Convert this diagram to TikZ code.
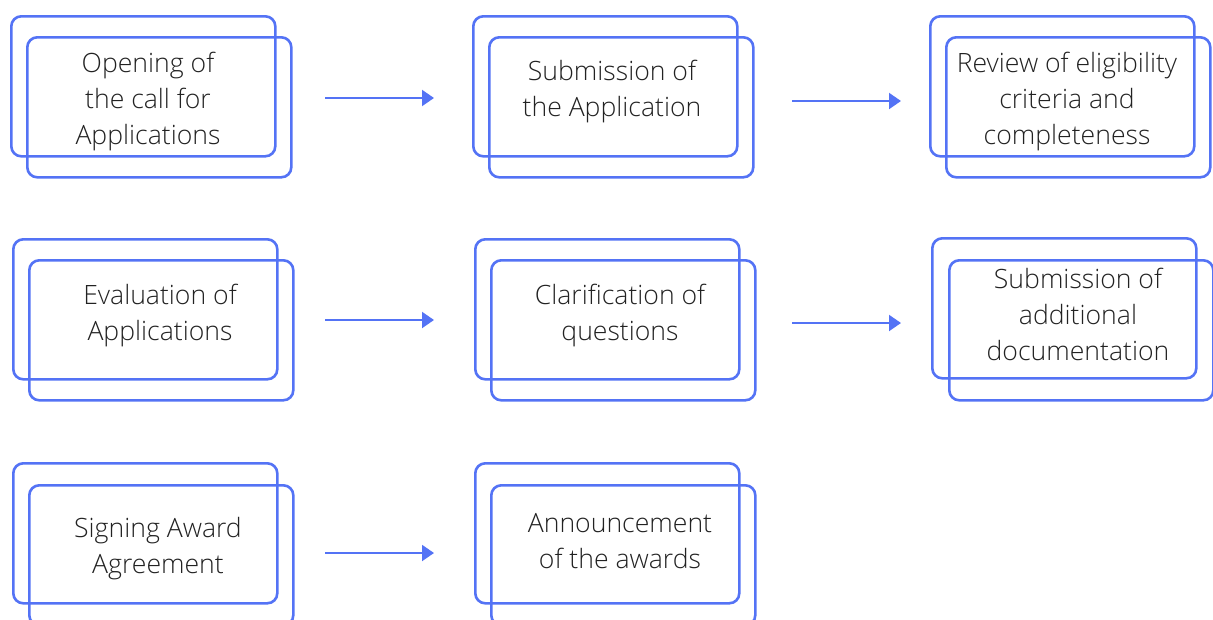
\documentclass[tikz,border=0pt]{standalone}
\usepackage{fontspec}
\setmainfont{Open Sans}[UprightFont=* Light]
\usetikzlibrary{arrows.meta}
\definecolor{bl}{RGB}{84,115,245}
\definecolor{tx}{RGB}{34,34,34}
\begin{document}
\begin{tikzpicture}[x=1pt,y=-1pt,
  boxb/.style={draw=bl,line width=2.6pt,rounded corners=10pt,minimum width=264pt,minimum height=140pt,inner sep=0pt,anchor=north west},
  lbl/.style={align=center,text=tx,font=\fontsize{26.6}{36}\selectfont,inner sep=0pt},
  arr/.style={draw=bl,line width=2pt,-{Triangle[length=12pt,width=16pt]}}]
\useasboundingbox (0,0) rectangle (1213,619);
\begin{scope}
\clip (0,0) rectangle (1213,619);
% row 1
\node[boxb] (b1) at (10,15) {};   \node[boxb] (f1) at (26,36) {};
\node[boxb] (b2) at (472,15) {}; \node[boxb] (f2) at (488,36) {};
\node[boxb] (b3) at (929,15) {}; \node[boxb] (f3) at (945,36) {};
% row 2
\node[boxb] (b4) at (12,238) {};  \node[boxb] (f4) at (28,259) {};
\node[boxb] (b5) at (474,238) {}; \node[boxb] (f5) at (490,259) {};
\node[boxb] (b6) at (931,237) {}; \node[boxb] (f6) at (948,259) {};
% row 3
\node[boxb] (b7) at (12,462) {};  \node[boxb] (f7) at (28,484) {};
\node[boxb] (b8) at (474,462) {}; \node[boxb] (f8) at (490,484) {};
\end{scope}
% labels
\node[lbl] (t1) at (148,102) {Opening of\\the call for\\Applications};
\node[lbl] (t2) at (612,92) {Submission of\\the Application};
\node[lbl] (t3) at (1067,102) {Review of eligibility\\criteria and\\completeness};
\node[lbl] (t4) at (160,316) {Evaluation of\\Applications};
\node[lbl] (t5) at (620,316) {Clarification of\\questions};
\node[lbl] (t6) at (1078,314) {Submission of\\additional\\documentation};
\node[lbl] (t7) at (158,549) {Signing Award\\Agreement};
\node[lbl] (t8) at (620,541) {Announcement\\of the awards};
% arrows
\coordinate (s1) at (325,98);  \coordinate (e1) at (434,98);
\coordinate (s2) at (792,101); \coordinate (e2) at (901,101);
\coordinate (s3) at (325,320); \coordinate (e3) at (434,320);
\coordinate (s4) at (792,323); \coordinate (e4) at (901,323);
\coordinate (s5) at (325,553); \coordinate (e5) at (434,553);
\draw[arr] (s1) -- (e1);
\draw[arr] (s2) -- (e2);
\draw[arr] (s3) -- (e3);
\draw[arr] (s4) -- (e4);
\draw[arr] (s5) -- (e5);
\end{tikzpicture}
\end{document}
